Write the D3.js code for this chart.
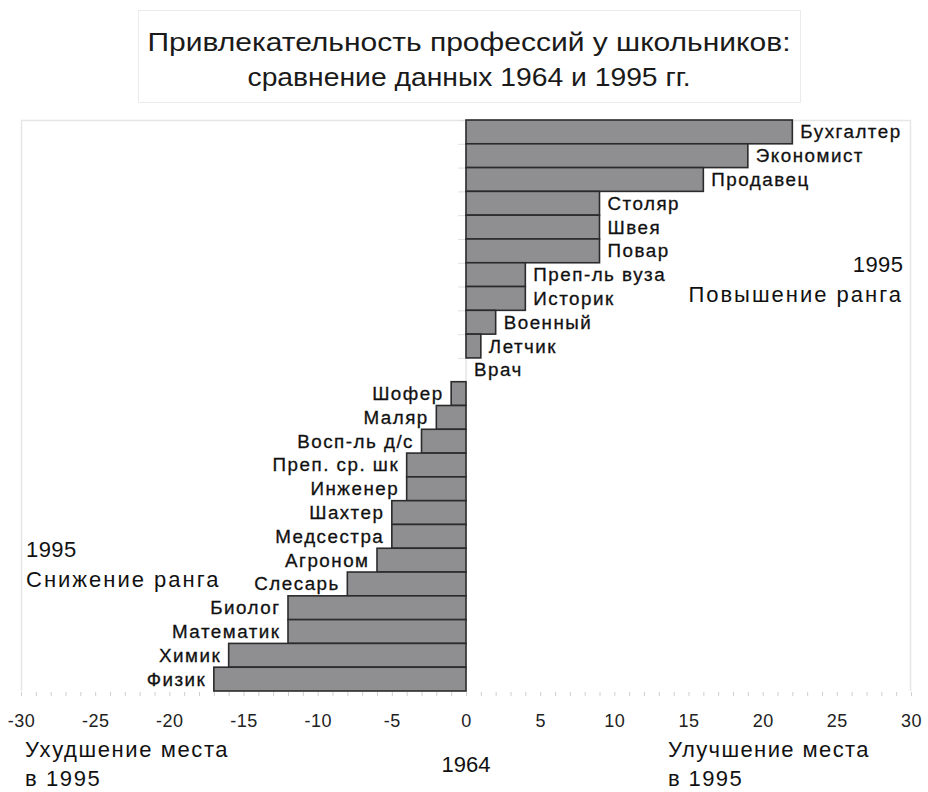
<!DOCTYPE html>
<html>
<head>
<meta charset="utf-8">
<script src="https://cdn.jsdelivr.net/npm/d3@7"></script>
<style>
  body { margin: 0; background: #fff; }
  svg { display: block; }
</style>
</head>
<body>
<div id="chart"></div>
<script>
// Professions, top to bottom, and the change of rank from 1964 to 1995
const professions = [
  "Бухгалтер", "Экономист", "Продавец", "Столяр", "Швея", "Повар",
  "Преп-ль вуза", "Историк", "Военный", "Летчик", "Врач", "Шофер",
  "Маляр", "Восп-ль д/с", "Преп. ср. шк", "Инженер", "Шахтер", "Медсестра",
  "Агроном", "Слесарь", "Биолог", "Математик", "Химик", "Физик"
];
const rankChange = [
  22, 19, 16, 9, 9, 9,
  4, 4, 2, 1, 0, -1,
  -2, -3, -4, -4, -5, -5,
  -6, -8, -12, -12, -16, -17
];
const xTicks = [-30, -25, -20, -15, -10, -5, 0, 5, 10, 15, 20, 25, 30];
const titleLines = ["Привлекательность профессий у школьников:", "сравнение данных 1964 и 1995 гг."];

const width = 928,
  height = 792;
const plot = { left: 21, right: 911, top: 120, bottom: 691 };
const font = "'Liberation Sans', Arial, sans-serif";

const svg = d3.select("#chart").append("svg").attr("width", width).attr("height", height);

const x = d3.scaleLinear().domain([-30, 30]).range([plot.left, plot.right]);
const y = d3.scaleBand().domain(professions).range([plot.top, plot.bottom]).padding(0);

// Title box
svg
  .append("rect")
  .attr("x", 138.5)
  .attr("y", 10.5)
  .attr("width", 662)
  .attr("height", 92)
  .attr("fill", "none")
  .attr("stroke", "#ebebeb");

svg
  .selectAll("text.title")
  .data(titleLines)
  .join("text")
  .attr("class", "title")
  .attr("x", 469)
  .attr("y", (d, i) => 51 + i * 35)
  .attr("text-anchor", "middle")
  .attr("textLength", (d, i) => (i === 0 ? 643 : 443))
  .attr("lengthAdjust", "spacingAndGlyphs")
  .style("font-family", font)
  .style("font-size", "25px")
  .style("fill", "#1a1a1a")
  .text((d) => d);

// Plot area frame (top, left, right)
svg
  .append("path")
  .attr("d", `M${plot.left + 0.5},${plot.bottom}V${plot.top + 0.5}H${plot.right - 0.5}V${plot.bottom}`)
  .attr("fill", "none")
  .attr("stroke", "#e6e6e6")
  .attr("stroke-width", 1.5);

// Zero line and category ticks
svg
  .append("line")
  .attr("x1", x(0))
  .attr("x2", x(0))
  .attr("y1", plot.top)
  .attr("y2", plot.bottom)
  .attr("stroke", "#d8d8d8");

svg
  .selectAll("line.ytick")
  .data(professions)
  .join("line")
  .attr("class", "ytick")
  .attr("x1", x(0) - 8)
  .attr("x2", x(0))
  .attr("y1", (d) => y(d) + 0.5)
  .attr("y2", (d) => y(d) + 0.5)
  .attr("stroke", "#e0e0e0");

// Bars
svg
  .selectAll("rect.bar")
  .data(professions)
  .join("rect")
  .attr("class", "bar")
  .attr("x", (d, i) => x(Math.min(0, rankChange[i])))
  .attr("y", (d) => y(d))
  .attr("width", (d, i) => Math.abs(x(rankChange[i]) - x(0)))
  .attr("height", y.bandwidth())
  .attr("fill", "#8f8f92")
  .attr("stroke", "#2b2b2b")
  .attr("stroke-width", 1.6)
  .style("display", (d, i) => (rankChange[i] === 0 ? "none" : null));

// Bar labels (letter-spacing adds trailing space, so shift end-anchored ones)
const labelSpacing = 1.5;
svg
  .selectAll("text.label")
  .data(professions)
  .join("text")
  .attr("class", "label")
  .attr("x", (d, i) => (rankChange[i] < 0 ? x(rankChange[i]) - 9 + labelSpacing : x(rankChange[i]) + 8))
  .attr("y", (d) => y(d) + y.bandwidth() / 2 + 6.5)
  .attr("text-anchor", (d, i) => (rankChange[i] < 0 ? "end" : "start"))
  .style("font-family", font)
  .style("font-size", "18.8px")
  .style("letter-spacing", labelSpacing + "px")
  .style("fill", "#111")
  .style("stroke", "#111")
  .style("stroke-width", 0.3)
  .text((d) => d);

// X axis: light ticks, no domain line
const xAxis = d3
  .axisBottom(x)
  .tickValues(d3.range(-30, 31))
  .tickSize(5)
  .tickFormat("");

const axisG = svg.append("g").attr("transform", `translate(0,${plot.bottom})`).call(xAxis);
axisG.select(".domain").remove();
axisG.selectAll(".tick line").attr("stroke", "#cfcfcf").attr("y1", 1);

svg
  .selectAll("text.xtick")
  .data(xTicks)
  .join("text")
  .attr("class", "xtick")
  .attr("x", (d) => x(d) + 0.5)
  .attr("y", 727)
  .attr("text-anchor", "middle")
  .style("font-family", font)
  .style("font-size", "18px")
  .style("letter-spacing", "0.5px")
  .style("fill", "#222")
  .text((d) => d);

// Annotations
const note = (txt, xp, yp, anchor, spacing) =>
  svg
    .append("text")
    .attr("x", anchor === "end" ? xp + spacing : anchor === "middle" ? xp + spacing / 2 : xp)
    .attr("y", yp)
    .attr("text-anchor", anchor)
    .style("font-family", font)
    .style("font-size", "22px")
    .style("letter-spacing", spacing + "px")
    .style("fill", "#111")
    .text(txt);

note("Ухудшение места", 25, 757, "start", 1.6);
note("в 1995", 25, 786, "start", 1.6);
note("1964", x(0), 772, "middle", 0);
note("Улучшение места", 668, 757, "start", 1.4);
note("в 1995", 668, 786, "start", 1.4);

note("1995", 903, 272, "end", 0.4);
note("Повышение ранга", 901, 302, "end", 2);
note("1995", 26, 557, "start", 0.4);
note("Снижение ранга", 26, 587, "start", 2);
</script>
</body>
</html>
